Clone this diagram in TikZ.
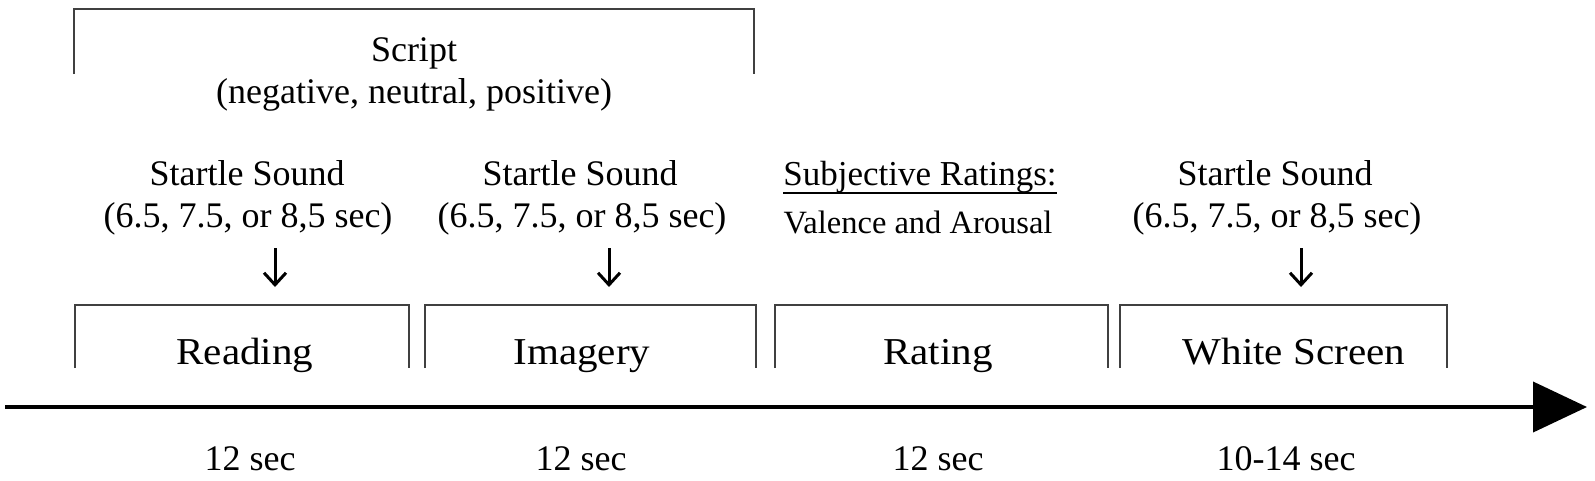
\documentclass[tikz,border=0pt]{standalone}
\usepackage{fontspec}
\setmainfont{Liberation Serif}
\newfontfamily\boxfont[FakeStretch=1.08]{Liberation Serif}
\usetikzlibrary{arrows.meta}
\begin{document}
\begin{tikzpicture}[x=1pt,y=-1pt,
  txt/.style={anchor=base, inner sep=0pt, font=\fontsize{36}{40}\selectfont},
  small/.style={anchor=base, inner sep=0pt, font=\fontsize{32.5}{36}\selectfont},
  lbl/.style={anchor=base, inner sep=0pt, font=\boxfont\fontsize{38}{42}\selectfont},
  frame/.style={draw=black!75, line width=2pt},
  cue/.style={line width=3pt, -{Straight Barb[length=12pt,width=22pt,line width=3pt]}},
  timeline/.style={line width=4pt, -{Triangle[length=54pt,width=50pt]}}]
\useasboundingbox (0,0) rectangle (1595,480);

% Script bracket
\draw[frame] (74,74) -- (74,9) -- (754,9) -- (754,74);
\node[txt] (script) at (414,61) {Script};
\node[txt] (scriptsub) at (414,103) {(negative, neutral, positive)};

% Startle / ratings texts
\node[txt] (s1) at (247,185) {Startle Sound};
\node[txt] (s1t) at (248,227) {(6.5, 7.5, or 8,5 sec)};
\node[txt] (s2) at (580,185) {Startle Sound};
\node[txt] (s2t) at (582,227) {(6.5, 7.5, or 8,5 sec)};
\node[txt, font=\fontsize{35}{40}\selectfont] (subj) at (920,185) {Subjective Ratings:};
\draw[line width=1.8pt] ([yshift=-8pt]subj.base west) -- ([yshift=-8pt]subj.base east);
\node[small] (val) at (918,233) {Valence and Arousal};
\node[txt] (s3) at (1275,185) {Startle Sound};
\node[txt] (s3t) at (1277,227) {(6.5, 7.5, or 8,5 sec)};

% boxes
\draw[frame] (75,368) -- (75,305) -- (409,305) -- (409,368);
\draw[frame] (425,368) -- (425,305) -- (756,305) -- (756,368);
\draw[frame] (775,368) -- (775,305) -- (1108,305) -- (1108,368);
\draw[frame] (1120,368) -- (1120,305) -- (1447,305) -- (1447,368);

\node[lbl] (reading) at (245,364) {Reading};
\node[lbl] (imagery) at (582,364) {Imagery};
\node[lbl] (rating) at (938,364) {Rating};
\node[lbl] (white) at (1294,364) {White Screen};

% cue arrows
\coordinate (a1) at (275,248); \coordinate (b1) at (275,287);
\coordinate (a2) at (609,248); \coordinate (b2) at (609,287);
\coordinate (a3) at (1301,248); \coordinate (b3) at (1301,287);
\draw[cue] (a1) -- (b1);
\draw[cue] (a2) -- (b2);
\draw[cue] (a3) -- (b3);

% timeline
\coordinate (t0) at (5,407);
\coordinate (t1) at (1587,407);
\draw[timeline] (t0) -- (t1);

% durations
\node[txt] (d1) at (250,470) {12 sec};
\node[txt] (d2) at (581,470) {12 sec};
\node[txt] (d3) at (938,470) {12 sec};
\node[txt] (d4) at (1286,470) {10-14 sec};
\end{tikzpicture}
\end{document}
